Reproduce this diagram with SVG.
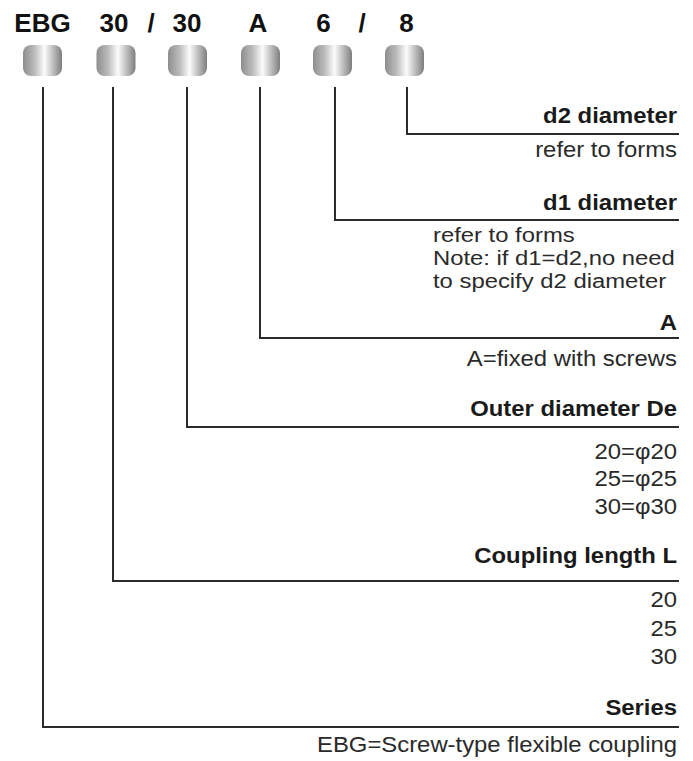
<svg xmlns="http://www.w3.org/2000/svg" width="693" height="761" viewBox="0 0 693 761">
  <defs>
    <linearGradient id="metal" x1="0" y1="0" x2="1" y2="0">
      <stop offset="0" stop-color="#8e8e8e"/>
      <stop offset="0.3" stop-color="#bcbcbc"/>
      <stop offset="0.55" stop-color="#fbfbfb"/>
      <stop offset="0.75" stop-color="#c4c4c4"/>
      <stop offset="1" stop-color="#7e7e7e"/>
    </linearGradient>
  </defs>
  <style>
    .code { font-family: "Liberation Sans", Arial, sans-serif; font-weight: bold; font-size: 26px; fill: #111; text-anchor: middle; }
    .cyl { fill: url(#metal); stroke: none; }
    .lbl { font-family: "Liberation Sans", Arial, sans-serif; font-weight: bold; font-size: 22px; fill: #1a1a1a; text-anchor: end; }
    .val { font-family: "Liberation Sans", Arial, sans-serif; font-size: 22px; fill: #2a2a2a; text-anchor: end; }
    .valL { font-family: "Liberation Sans", Arial, sans-serif; font-size: 21px; fill: #2a2a2a; text-anchor: start; }
    .conn { fill: none; stroke: #2b2b2b; stroke-width: 2; }
  </style>
  <rect width="693" height="761" fill="#ffffff"/>

  <g id="code-series">
    <text class="code" x="42.5" y="32">EBG</text>
    <rect class="cyl" x="23" y="45" width="39" height="31" rx="8"/>
  </g>
  <g id="code-length">
    <text class="code" x="114" y="32">30</text>
    <rect class="cyl" x="96.5" y="45" width="39" height="31" rx="8"/>
  </g>
  <text class="code" x="151" y="32">/</text>
  <g id="code-outer">
    <text class="code" x="187" y="32">30</text>
    <rect class="cyl" x="168" y="45" width="39" height="31" rx="8"/>
  </g>
  <g id="code-a">
    <text class="code" x="258" y="32">A</text>
    <rect class="cyl" x="241" y="45" width="39" height="31" rx="8"/>
  </g>
  <g id="code-d1">
    <text class="code" x="323.5" y="32">6</text>
    <rect class="cyl" x="313" y="45" width="39" height="31" rx="8"/>
  </g>
  <text class="code" x="362" y="32">/</text>
  <g id="code-d2">
    <text class="code" x="406.5" y="32">8</text>
    <rect class="cyl" x="385" y="45" width="39" height="31" rx="8"/>
  </g>

  <g id="connectors">
    <polyline class="conn" points="407,87 407,134 679,134"/>
    <polyline class="conn" points="335,87 335,220 679,220"/>
    <polyline class="conn" points="260,87 260,338 679,338"/>
    <polyline class="conn" points="187,87 187,427 679,427"/>
    <polyline class="conn" points="113,87 113,581 679,581"/>
    <polyline class="conn" points="43,87 43,727 679,727"/>
  </g>

  <g id="label-d2">
    <text class="lbl" transform="translate(677,123) scale(1.085,1)">d2 diameter</text>
    <text class="val" transform="translate(677,157) scale(1.085,1)">refer to forms</text>
  </g>
  <g id="label-d1">
    <text class="lbl" transform="translate(677,210) scale(1.085,1)">d1 diameter</text>
    <text class="valL" transform="translate(433,242) scale(1.135,1)">refer to forms</text>
    <text class="valL" transform="translate(433,264.5) scale(1.135,1)">Note: if d1=d2,no need</text>
    <text class="valL" transform="translate(433,288) scale(1.135,1)">to specify d2 diameter</text>
  </g>
  <g id="label-a">
    <text class="lbl" transform="translate(677,330) scale(1.085,1)">A</text>
    <text class="val" transform="translate(677,366) scale(1.085,1)">A=fixed with screws</text>
  </g>
  <g id="label-outer">
    <text class="lbl" transform="translate(677,416) scale(1.085,1)">Outer diameter De</text>
    <text class="val" transform="translate(677,459) scale(1.085,1)">20=φ20</text>
    <text class="val" transform="translate(677,486) scale(1.085,1)">25=φ25</text>
    <text class="val" transform="translate(677,514) scale(1.085,1)">30=φ30</text>
  </g>
  <g id="label-length">
    <text class="lbl" transform="translate(677,563) scale(1.085,1)">Coupling length L</text>
    <text class="val" transform="translate(677,607) scale(1.085,1)">20</text>
    <text class="val" transform="translate(677,636) scale(1.085,1)">25</text>
    <text class="val" transform="translate(677,664) scale(1.085,1)">30</text>
  </g>
  <g id="label-series">
    <text class="lbl" transform="translate(677,715) scale(1.085,1)">Series</text>
    <text class="val" transform="translate(677,752) scale(1.085,1)">EBG=Screw-type flexible coupling</text>
  </g>
</svg>
